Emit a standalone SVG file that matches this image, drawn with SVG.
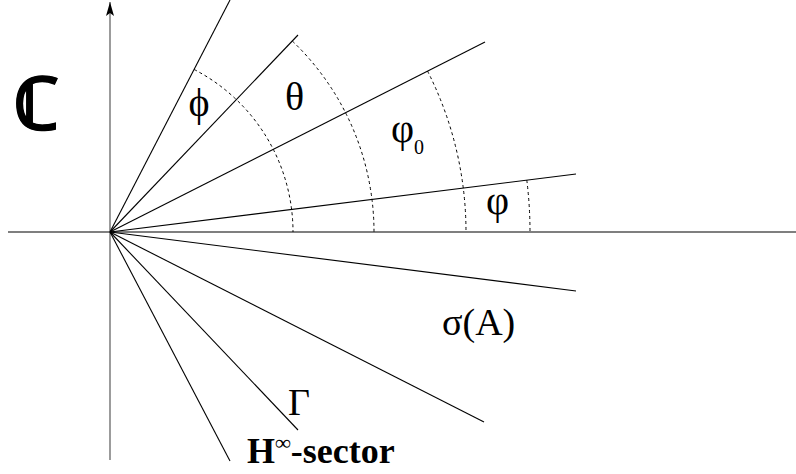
<svg xmlns="http://www.w3.org/2000/svg" width="796" height="474" viewBox="0 0 796 474">
<style>
.ax{stroke:#000;stroke-width:1.2;fill:none}
.ln{stroke:#000;stroke-width:1.1;fill:none}
.arc{stroke:#000;stroke-width:1;fill:none;stroke-dasharray:3 3}
.t{font-family:"Liberation Serif","Times New Roman",serif;fill:#000}
</style>
<g id="connectors">
<line class="ax" x1="8" y1="232" x2="796" y2="232"/>
<line x1="110" y1="460" x2="110" y2="2" stroke="#666" stroke-width="1.3"/>
<path d="M110,2 L114,16 L110,13 L106,16 Z" fill="#000"/>
<line class="ln" x1="110" y1="232" x2="230" y2="0"/>
<line class="ln" x1="110" y1="232" x2="298" y2="35"/>
<line class="ln" x1="110" y1="232" x2="485" y2="42" stroke-width="1.5"/>
<line class="ln" x1="110" y1="232" x2="576" y2="174"/>
<line class="ln" x1="110" y1="232" x2="576" y2="291"/>
<line class="ln" x1="110" y1="232" x2="484" y2="422"/>
<line class="ln" x1="110" y1="232" x2="298" y2="430"/>
<line class="ln" x1="110" y1="232" x2="230" y2="461"/>
<path class="arc" d="M194.2,69.5 A183,183 0 0 1 293,232"/>
<path class="arc" d="M292.4,41.1 A264,264 0 0 1 374,232"/>
<path class="arc" d="M427.5,71 A356,356 0 0 1 466,232"/>
<path class="arc" d="M526.8,180.1 A420,420 0 0 1 530,232"/>
</g>
<g id="label-C"><text class="t" x="37" y="129" font-family="DejaVu Serif, serif" font-size="72" font-weight="bold" stroke="#000" stroke-width="0.8" text-anchor="middle">ℂ</text></g>
<g id="label-phi"><text class="t" x="199" y="116" font-size="40" text-anchor="middle">ϕ</text></g>
<g id="label-theta"><text class="t" x="294.5" y="110" font-size="40" text-anchor="middle">θ</text></g>
<g id="label-phi0"><text class="t" x="391" y="142" font-size="40">φ<tspan font-size="20" dy="12">0</tspan></text></g>
<g id="label-varphi"><text class="t" x="497.5" y="214" font-size="40" text-anchor="middle">φ</text></g>
<g id="label-sigma"><text class="t" x="442" y="335" font-size="38">σ(A)</text></g>
<g id="label-gamma"><text class="t" x="288" y="415" font-size="38">Γ</text></g>
<g id="label-hsector"><text class="t" x="247" y="463" font-size="36" font-weight="bold">H<tspan font-size="22" dy="-13">∞</tspan><tspan dy="13">-sector</tspan></text></g>
</svg>
